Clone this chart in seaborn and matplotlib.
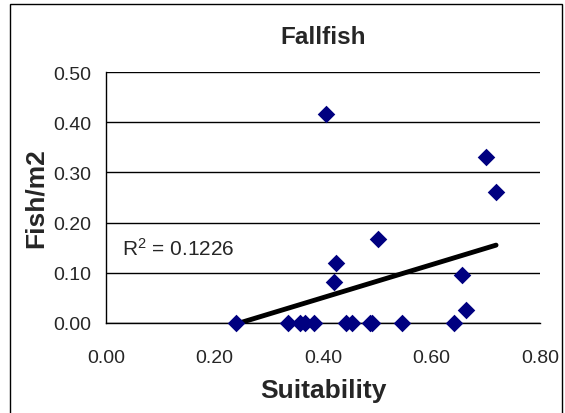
import numpy as np
import matplotlib
matplotlib.use("Agg")
import matplotlib.pyplot as plt
import seaborn as sns
from matplotlib.patches import Rectangle

# suitability vs fish density
suitability = [0.240, 0.335, 0.358, 0.366, 0.384, 0.442, 0.454, 0.487, 0.491,
               0.545, 0.641, 0.405, 0.700, 0.719, 0.502, 0.424, 0.420, 0.657, 0.664]
fish_m2 = [0.000, 0.000, 0.000, 0.000, 0.000, 0.000, 0.000, 0.000, 0.000,
           0.000, 0.000, 0.417, 0.331, 0.261, 0.167, 0.119, 0.081, 0.095, 0.025]
r2_label = "R$^{2}$ = 0.1226"
x_ticks = [0.0, 0.2, 0.4, 0.6, 0.8]
y_ticks = [0.0, 0.1, 0.2, 0.3, 0.4, 0.5]

sns.set_style("white")
plt.rcParams['font.family'] = ['Liberation Sans', 'DejaVu Sans']
plt.rcParams['mathtext.default'] = 'regular'

fig = plt.figure(figsize=(5.65, 4.14), dpi=100)
W, H = 565, 414
ax = fig.add_axes([106 / W, 1 - 324 / H, (540 - 106) / W, (324 - 73) / H])

# outer chart frame
fig.patches.append(Rectangle((10 / W, -0.05), (562 - 10) / W, 1 - 5 / H + 0.05,
                             transform=fig.transFigure, fill=False,
                             edgecolor='black', linewidth=1, zorder=0))

# linear trend line fitted to the points
slope, intercept = np.polyfit(suitability, fish_m2, 1)
xs = np.array([min(suitability), max(suitability)])
ax.plot(xs, slope * xs + intercept, color='black', lw=3.5, zorder=3)

sns.scatterplot(x=suitability, y=fish_m2, ax=ax, marker='D', color='#000080',
                s=80, edgecolor='#000080', linewidth=0, zorder=4, clip_on=False)

ax.set_xlim(0, 0.8)
ax.set_ylim(0, 0.5)
ax.set_xticks(x_ticks)
ax.set_yticks(y_ticks)
ax.set_xticklabels([f"{v:.2f}" for v in x_ticks])
ax.set_yticklabels([f"{v:.2f}" for v in y_ticks])
ax.tick_params(axis='both', labelsize=14, length=5, width=1, color='black',
               direction='inout')
ax.tick_params(axis='x', pad=16)
ax.tick_params(axis='y', pad=8)
ax.yaxis.grid(True, color='black', lw=1)
ax.set_axisbelow(True)
for side in ['top', 'right']:
    ax.spines[side].set_visible(False)
for side in ['left', 'bottom']:
    ax.spines[side].set_color('black')
    ax.spines[side].set_linewidth(1)

ax.set_title("Fallfish", fontsize=17.5, fontweight='bold', pad=21)
ax.set_xlabel("Suitability", fontsize=19, fontweight='bold', labelpad=9)
ax.set_ylabel("Fish/m2", fontsize=19, fontweight='bold', labelpad=4)
ax.text(0.03, 0.15, r2_label, fontsize=15, va='center', ha='left')

fig.savefig("out.png", dpi=100)
